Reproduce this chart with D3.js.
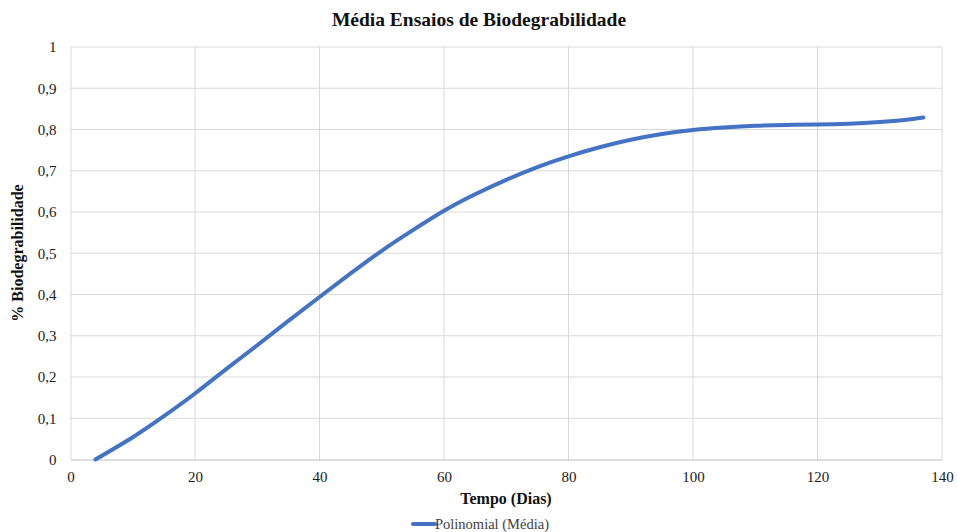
<!DOCTYPE html>
<html>
<head>
<meta charset="utf-8">
<script src="https://cdn.jsdelivr.net/npm/d3@7"></script>
<style>
  html, body { margin: 0; padding: 0; background: #fff; }
  svg { display: block; font-family: "Liberation Serif", "Times New Roman", serif; }
</style>
</head>
<body>
<svg id="chart" width="957" height="532"></svg>
<script>
// Average biodegradability trend (polynomial fit)
const days = [4, 10, 15, 20, 25, 30, 35, 40, 45, 50, 55, 60, 65, 70, 75, 80, 85, 90, 95, 100, 105, 110, 115, 120, 125, 130, 134, 137];
const media = [0, 0.054, 0.105, 0.160, 0.219, 0.277, 0.336, 0.394, 0.451, 0.506, 0.556, 0.603, 0.643, 0.678, 0.709, 0.735, 0.757, 0.775, 0.789, 0.799, 0.805, 0.809, 0.811, 0.812, 0.814, 0.818, 0.823, 0.829];
const xTicks = [0, 20, 40, 60, 80, 100, 120, 140];
const yTicks = [0, 0.1, 0.2, 0.3, 0.4, 0.5, 0.6, 0.7, 0.8, 0.9, 1];

const svg = d3.select("#chart");
const m = { left: 70.5, right: 942, top: 47, bottom: 459.5 };

const x = d3.scaleLinear().domain([0, 140]).range([m.left, m.right]);
const y = d3.scaleLinear().domain([0, 1]).range([m.bottom, m.top]);
const fmt = d => String(d3.format("~g")(+d.toFixed(1))).replace(".", ",");

// gridlines
svg.append("g").selectAll("line").data(yTicks.filter(d => d > 0)).join("line")
  .attr("x1", m.left).attr("x2", m.right)
  .attr("y1", d => y(d)).attr("y2", d => y(d))
  .attr("stroke", "#d9d9d9").attr("stroke-width", 1);
svg.append("g").selectAll("line").data(xTicks.filter(d => d > 0)).join("line")
  .attr("x1", d => x(d)).attr("x2", d => x(d))
  .attr("y1", m.top).attr("y2", m.bottom)
  .attr("stroke", "#d9d9d9").attr("stroke-width", 1);

// axes
const xAxis = svg.append("g").attr("transform", `translate(0,${m.bottom})`)
  .call(d3.axisBottom(x).tickValues(xTicks).tickSize(0).tickPadding(12).tickFormat(d3.format("d")));
xAxis.select(".domain").attr("stroke", "#bfbfbf");
xAxis.selectAll("text").attr("font-size", 15).attr("fill", "#1a1a1a").attr("font-family", "Liberation Serif");

const yAxis = svg.append("g").attr("transform", `translate(${m.left},0)`)
  .call(d3.axisLeft(y).tickValues(yTicks).tickSize(0).tickPadding(14).tickFormat(fmt));
yAxis.select(".domain").attr("stroke", "#d9d9d9");
yAxis.selectAll("text").attr("font-size", 15).attr("fill", "#1a1a1a").attr("font-family", "Liberation Serif");

// trend line
const line = d3.line().x((d, i) => x(days[i])).y(d => y(d)).curve(d3.curveNatural);
svg.append("path").datum(media)
  .attr("d", line)
  .attr("fill", "none").attr("stroke", "#4472c4").attr("stroke-width", 4)
  .attr("stroke-linecap", "round");

// titles
svg.append("text").attr("x", 479).attr("y", 26).attr("text-anchor", "middle")
  .attr("font-size", 19.5).attr("font-weight", "bold").attr("fill", "#111")
  .text("Média Ensaios de Biodegrabilidade");
svg.append("text").attr("x", 506).attr("y", 504).attr("text-anchor", "middle")
  .attr("font-size", 16).attr("font-weight", "bold").attr("fill", "#111")
  .text("Tempo (Dias)");
svg.append("text").attr("transform", "translate(23,253) rotate(-90)").attr("text-anchor", "middle")
  .attr("font-size", 16).attr("font-weight", "bold").attr("fill", "#111")
  .text("% Biodegrabilidade");

// legend
const lg = svg.append("g").attr("transform", "translate(413,524)");
lg.append("line").attr("x1", 0).attr("x2", 22).attr("y1", 0).attr("y2", 0)
  .attr("stroke", "#4472c4").attr("stroke-width", 4).attr("stroke-linecap", "round");
lg.append("text").attr("x", 22).attr("y", 5).attr("font-size", 14.5).attr("fill", "#404040")
  .text("Polinomial (Média)");
</script>
</body>
</html>
